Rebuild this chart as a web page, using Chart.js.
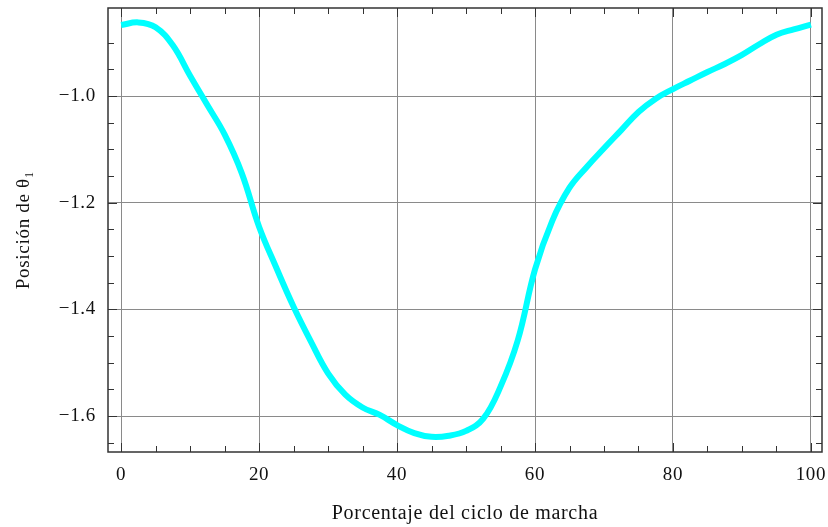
<!DOCTYPE html>
<html>
<head>
<meta charset="utf-8">
<script src="https://cdn.jsdelivr.net/npm/chart.js@4"></script>
<style>
  html, body { margin: 0; padding: 0; background: #fff; }
  #wrap { width: 828px; height: 527px; }
</style>
</head>
<body>
<div id="wrap"><canvas id="chart" width="828" height="527"></canvas></div>
<script>
// porcentaje del ciclo de marcha
const cyclePct = [0, 2.5, 5, 7.5, 10, 12.5, 15, 17.5, 20, 22.5, 25, 27.5, 30, 32.5, 35, 37.5, 40, 42.5, 45, 47.5,
    50, 52.5, 55, 57.5, 60, 62.5, 65, 67.5, 70, 72.5, 75, 77.5, 80, 82.5, 85, 87.5, 90, 92.5, 95, 97.5, 100]
// posicion de theta1
const theta1 = [-0.867, -0.862, -0.871, -0.905, -0.962, -1.017, -1.072, -1.145, -1.245, -1.322, -1.395, -1.460,
    -1.520, -1.560, -1.584, -1.598, -1.617, -1.632, -1.639, -1.637, -1.628, -1.605, -1.545, -1.458, -1.325,
    -1.234, -1.172, -1.133, -1.098, -1.064, -1.030, -1.005, -0.987, -0.971, -0.955, -0.940, -0.923, -0.903,
    -0.885, -0.875, -0.866]
const xTicks = [0, 20, 40, 60, 80, 100]
const yTicks = [-1.6, -1.4, -1.2, -1.0]

const family = "'Liberation Serif', 'Times New Roman', serif"
const near = (v, arr) => arr.some(t => Math.abs(t - v) < 1e-6)

// sin relleno automatico alrededor de los ejes
const noPad = s => { s.paddingTop = 0; s.paddingBottom = 0; s.paddingLeft = 0; s.paddingRight = 0 }

// marcas hacia dentro en los cuatro lados + marco
const framePlugin = {
    id: 'frame',
    beforeDraw(chart) {
        chart.ctx.letterSpacing = '0.7px'
    },
    afterDraw(chart) {
        const { ctx, chartArea: a, scales } = chart
        ctx.save()
        ctx.strokeStyle = '#333'
        ctx.lineWidth = 1
        for (let v = 0; v <= 100.001; v += 5) {
            const px = Math.round(scales.x.getPixelForValue(v)) + 0.5
            const len = near(v, xTicks) ? 9 : 6
            ctx.beginPath()
            ctx.moveTo(px, a.bottom); ctx.lineTo(px, a.bottom - len)
            ctx.moveTo(px, a.top); ctx.lineTo(px, a.top + len)
            ctx.stroke()
        }
        for (let v = -1.65; v <= -0.85; v += 0.05) {
            const py = Math.round(scales.y.getPixelForValue(v)) + 0.5
            const len = near(v, yTicks) ? 9 : 6
            ctx.beginPath()
            ctx.moveTo(a.left, py); ctx.lineTo(a.left + len, py)
            ctx.moveTo(a.right, py); ctx.lineTo(a.right - len, py)
            ctx.stroke()
        }
        ctx.lineWidth = 1.5
        ctx.strokeRect(a.left, a.top, a.right - a.left, a.bottom - a.top)
        ctx.restore()
    }
}

new Chart('chart', {
    type: 'line',
    data: {
        datasets: [{
            data: cyclePct.map((x, i) => ({ x: x, y: theta1[i] })),
            borderColor: '#00ffff',
            borderWidth: 6,
            pointRadius: 0,
            tension: 0.4,
            fill: false
        }]
    },
    options: {
        responsive: false,
        animation: false,
        layout: { padding: { top: 8, right: 6, left: 0, bottom: 0 } },
        plugins: { legend: { display: false }, tooltip: { enabled: false } },
        scales: {
            x: {
                type: 'linear',
                min: -1.9,
                max: 101.6,
                afterBuildTicks: s => { s.ticks = xTicks.map(v => ({ value: v })) },
                afterFit: s => { s.height = 75; noPad(s) },
                grid: { color: '#8a8a8a', lineWidth: 1, drawTicks: false },
                border: { display: false },
                ticks: { color: '#111', font: { family: family, size: 19 }, padding: 12, maxRotation: 0 },
                title: { display: true, text: 'Porcentaje del ciclo de marcha', color: '#111',
                    font: { family: family, size: 20 }, padding: { top: 10, bottom: 1 } }
            },
            y: {
                type: 'linear',
                min: -1.6675,
                max: -0.835,
                afterBuildTicks: s => { s.ticks = yTicks.map(v => ({ value: v })) },
                afterFit: s => { s.width = 108; noPad(s) },
                grid: { color: '#8a8a8a', lineWidth: 1, drawTicks: false },
                border: { display: false },
                ticks: { color: '#111', font: { family: family, size: 19 }, padding: 12,
                    callback: v => (v < 0 ? '\u2212' : '') + Math.abs(v).toFixed(1) },
                title: { display: true, text: 'Posición de θ₁', color: '#111',
                    font: { family: family, size: 19 }, padding: { top: 13, bottom: 0 } }
            }
        }
    },
    plugins: [framePlugin]
})
</script>
</body>
</html>
